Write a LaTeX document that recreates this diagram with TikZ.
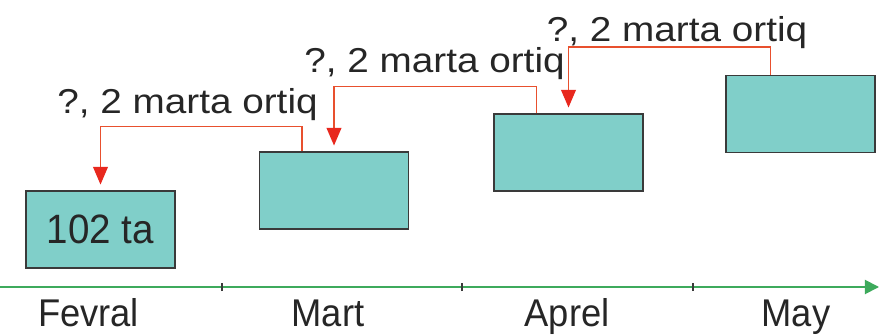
\documentclass[tikz,border=0pt]{standalone}
\usepackage{fontspec}
\setmainfont{Liberation Sans}
\newfontfamily\stepfont[FakeStretch=1.12]{Liberation Sans}
\newfontfamily\monthfont[FakeStretch=0.94]{Liberation Sans}
\usepackage{xcolor}
\usetikzlibrary{arrows.meta, positioning, calc}
\definecolor{tealbox}{HTML}{80CFC9}
\definecolor{boxedge}{HTML}{3A3A3A}
\definecolor{arrowred}{HTML}{E8502E}
\definecolor{tipred}{HTML}{E8281E}
\definecolor{axisgreen}{HTML}{3DAA5C}
\definecolor{textgray}{HTML}{262626}

\begin{document}
\begin{tikzpicture}[x=0.03cm,y=0.03cm,
  monthbox/.style={draw=boxedge,fill=tealbox,line width=1pt,
    minimum width=4.47cm,minimum height=2.31cm,inner sep=0pt},
  jumparrow/.style={arrowred,line width=1.3pt,
    -{Triangle[length=15pt,width=12.5pt,color=tipred]},shorten >=5pt},
  steplabel/.style={text=textgray,anchor=base,inner sep=0pt,
    font=\stepfont\fontsize{29.5}{32}\selectfont},
  monthname/.style={text=textgray,anchor=base,inner sep=0pt,
    font=\monthfont\fontsize{33}{36}\selectfont}]
  %% 1 unit = 1 px of the 879 x 334 frame, y measured up from the bottom
  \useasboundingbox (0,0) rectangle (879,334);

  % Boxes, one per month, climbing to the right
  \node[monthbox] (b1) at (100.5,104.5)
    {\monthfont\fontsize{35}{38}\selectfont\color{textgray}102 ta};
  \node[monthbox] (b2) at (334,143.5) {};
  \node[monthbox] (b3) at (568.5,181.5) {};
  \node[monthbox] (b4) at (800.5,220) {};

  % Red arrows: from each box back down to the one before
  \draw[jumparrow] ($(b2.north west)+(43,0)$) -- ++(0,25) -| (b1.north);
  \draw[jumparrow] ($(b3.north west)+(43,0)$) -- ++(0,27) -| (b2.north);
  \draw[jumparrow] ($(b4.north west)+(45,0)$) -- ++(0,28) -| (b3.north);

  % Labels above the arrows
  \node[steplabel] (l1) at (187.5,220) {?, 2 marta ortiq};
  \node[steplabel] (l2) at (434.5,261) {?, 2 marta ortiq};
  \node[steplabel] (l3) at (677,292) {?, 2 marta ortiq};

  % Time axis
  \coordinate (ax0) at (0,47);
  \coordinate (ax1) at (879,47);
  \draw[axisgreen,line width=1.6pt,-{Triangle[length=12pt,width=12pt]}]
    (ax0) -- (ax1);
  \foreach \x in {222,462,693}{
    \draw[boxedge,line width=0.9pt] (\x,43) -- (\x,51);
  }
  \foreach \x/\m in {88.5/Fevral, 328/Mart, 567/Aprel, 796/May}{
    \node[monthname] (m-\m) at (\x,8) {\m};
  }
\end{tikzpicture}
\end{document}
